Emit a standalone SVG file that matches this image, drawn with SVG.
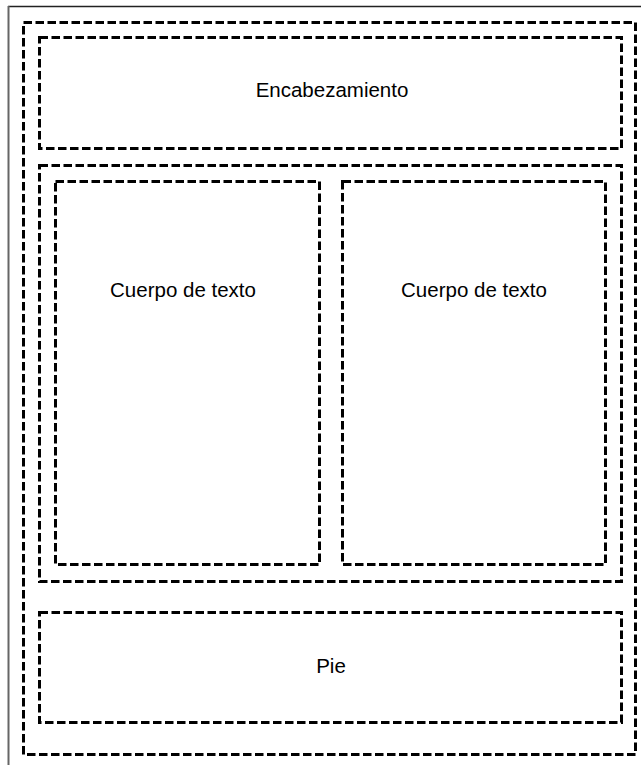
<svg xmlns="http://www.w3.org/2000/svg" width="641" height="765" viewBox="0 0 641 765">
  <style>
    .box { fill: none; stroke: #000; stroke-width: 3; stroke-dasharray: 8.5 3.5; }
    .lbl { font-family: "Liberation Sans", Arial, sans-serif; font-size: 20.5px; fill: #000; text-anchor: middle; }
  </style>
  <rect width="641" height="765" fill="#fff"/>
  <g id="frame">
    <line x1="8" y1="6.5" x2="641" y2="6.5" stroke="#222" stroke-width="1.5"/>
    <line x1="8.5" y1="6" x2="8.5" y2="765" stroke="#666" stroke-width="2"/>
  </g>
  <g id="page">
    <rect class="box" x="23.5" y="22.5" width="612" height="732"/>
  </g>
  <g id="header">
    <rect class="box" x="39.5" y="37.5" width="582" height="111"/>
    <text class="lbl" x="332" y="97">Encabezamiento</text>
  </g>
  <g id="body">
    <rect class="box" x="39.5" y="165.5" width="582" height="416"/>
  </g>
  <g id="col-left">
    <rect class="box" x="55.5" y="181.5" width="264" height="383"/>
    <text class="lbl" x="183" y="297">Cuerpo de texto</text>
  </g>
  <g id="col-right">
    <rect class="box" x="342.5" y="181.5" width="263" height="383"/>
    <text class="lbl" x="474" y="297">Cuerpo de texto</text>
  </g>
  <g id="footer">
    <rect class="box" x="39.5" y="612.5" width="582" height="110"/>
    <text class="lbl" x="331" y="673">Pie</text>
  </g>
  <g id="connectors"/>
</svg>
